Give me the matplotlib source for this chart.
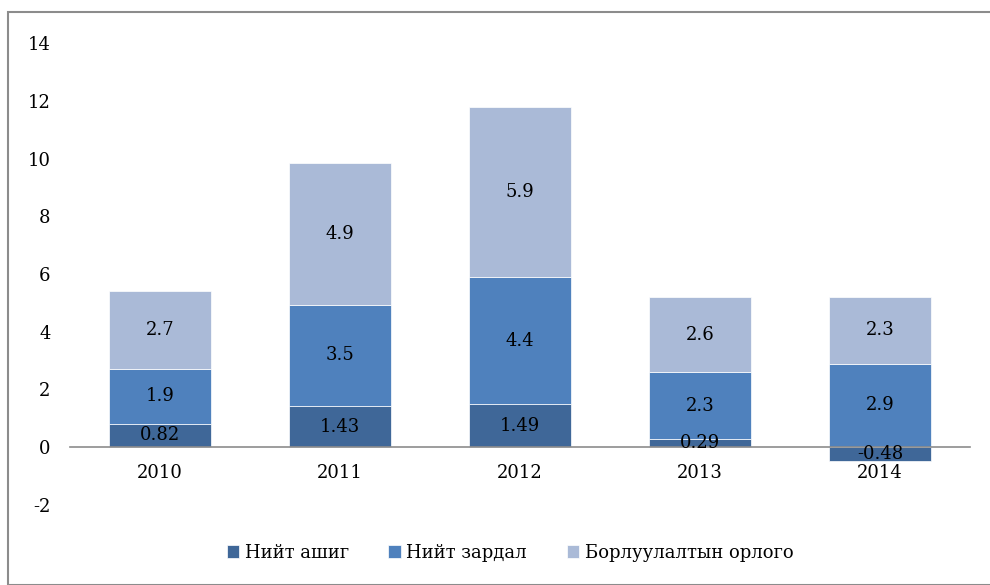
import matplotlib

matplotlib.use('Agg')
import matplotlib.pyplot as plt
from matplotlib.patches import Rectangle
import numpy as np

years = ['2010', '2011', '2012', '2013', '2014']
profit = [0.82, 1.43, 1.49, 0.29, -0.48]
cost = [1.9, 3.5, 4.4, 2.3, 2.9]
revenue = [2.7, 4.9, 5.9, 2.6, 2.3]
labels = ['Нийт ашиг', 'Нийт зардал', 'Борлуулалтын орлого']
colors = ['#3F6798', '#4F81BD', '#AABAD7']

plt.rcParams['font.family'] = ['DejaVu Serif']
plt.rcParams['axes.unicode_minus'] = False

fig = plt.figure(figsize=(9.9, 5.85), dpi=100)
fig.patches.append(Rectangle((8 / 990, 0), 1, 1 - 12 / 585, transform=fig.transFigure,
                             fill=False, edgecolor='#8c8c8c', linewidth=1.5))
ax = fig.add_axes([70 / 990, 1 - 505 / 585, 900 / 990, (505 - 43) / 585])

x = np.arange(len(years))
w = 0.57
# Excel-style stacking: negatives go below zero, positives stack from 0
pos_bottom = np.zeros(len(years))
for vals, col, lab in zip([profit, cost, revenue], colors, labels):
    vals = np.array(vals)
    bottom = np.where(vals >= 0, pos_bottom, 0)
    ax.bar(x, vals, w, bottom=bottom, color=col, label=lab,
           edgecolor='white', linewidth=0.5)
    for xi, b, v in zip(x, bottom, vals):
        ax.text(xi, b + v / 2, f'{v:g}', ha='center', va='center', fontsize=13)
    pos_bottom = pos_bottom + np.where(vals >= 0, vals, 0)

ax.set_xlim(-0.5, 4.5)
ax.set_ylim(-2, 14)
ax.set_yticks(range(-2, 15, 2))
ax.set_xticks(x)
ax.set_xticklabels(years)
for s in ['top', 'right', 'left']:
    ax.spines[s].set_visible(False)
ax.spines['bottom'].set_position(('data', 0))
ax.spines['bottom'].set_color('#8c8c8c')
ax.spines['bottom'].set_linewidth(1.2)
ax.tick_params(axis='both', length=0, labelsize=13)
ax.tick_params(axis='x', pad=12)
ax.tick_params(axis='y', pad=14)

ax.legend(loc='center', bbox_to_anchor=(510 / 990, 1 - 553 / 585),
          bbox_transform=fig.transFigure, ncol=3, frameon=False, fontsize=13,
          handlelength=0.7, handleheight=0.7, handletextpad=0.3, columnspacing=2.2)

fig.savefig('out.png', dpi=100)
